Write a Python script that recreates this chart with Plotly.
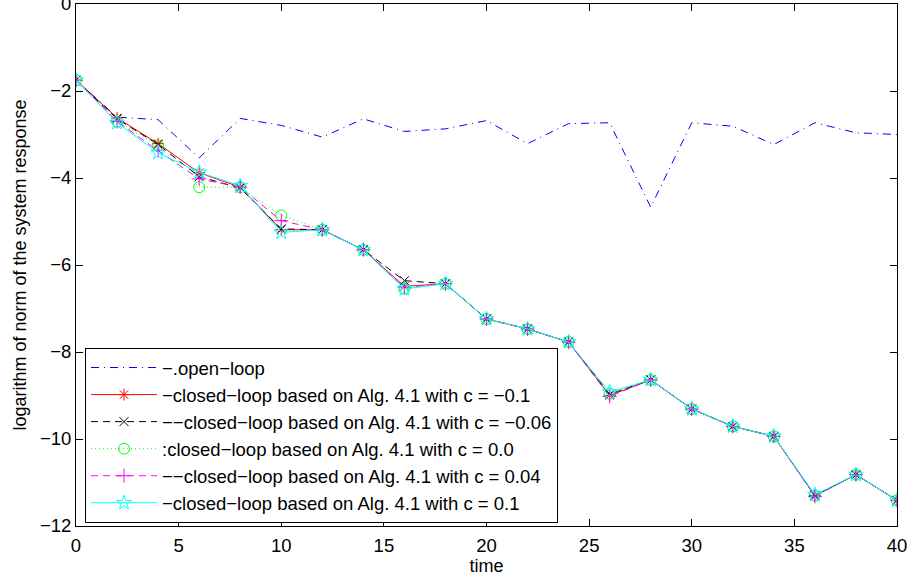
import plotly.graph_objects as go

time = [0, 2, 4, 6, 8, 10, 12, 14, 16, 18, 20, 22, 24, 26, 28, 30, 32, 34, 36, 38, 40]

open_loop = [-1.75, -2.60, -2.66, -3.54, -2.63, -2.79, -3.06, -2.64, -2.93, -2.87, -2.68,
             -3.21, -2.75, -2.73, -4.67, -2.73, -2.81, -3.23, -2.73, -2.96, -3.00]
cl_m010 = [-1.75, -2.62, -3.21, -3.88, -4.21, -5.19, -5.19, -5.65, -6.49, -6.43, -7.24,
           -7.47, -7.77, -9.00, -8.64, -9.31, -9.71, -9.94, -11.30, -10.82, -11.41]
cl_m006 = [-1.75, -2.64, -3.23, -3.97, -4.23, -5.17, -5.19, -5.65, -6.36, -6.43, -7.24,
           -7.47, -7.77, -8.97, -8.64, -9.31, -9.71, -9.94, -11.30, -10.82, -11.41]
cl_000 = [-1.75, -2.70, -3.25, -4.21, -4.21, -4.86, -5.19, -5.65, -6.55, -6.43, -7.24,
          -7.47, -7.77, -8.96, -8.64, -9.31, -9.71, -9.94, -11.30, -10.82, -11.41]
cl_p004 = [-1.75, -2.70, -3.37, -4.02, -4.21, -4.98, -5.19, -5.65, -6.51, -6.43, -7.24,
           -7.47, -7.77, -9.02, -8.64, -9.31, -9.71, -9.94, -11.32, -10.82, -11.41]
cl_p010 = [-1.75, -2.73, -3.42, -3.87, -4.18, -5.25, -5.19, -5.65, -6.55, -6.43, -7.24,
           -7.47, -7.77, -8.92, -8.64, -9.31, -9.71, -9.94, -11.28, -10.82, -11.41]

names = [
    "\u2212.open\u2212loop",
    "\u2212closed\u2212loop based on Alg. 4.1 with c = \u22120.1",
    "\u2212\u2212closed\u2212loop based on Alg. 4.1 with c = \u22120.06",
    ":closed\u2212loop based on Alg. 4.1 with c = 0.0",
    "\u2212\u2212closed\u2212loop based on Alg. 4.1 with c = 0.04",
    "\u2212closed\u2212loop based on Alg. 4.1 with c = 0.1",
]
x_ticks = [0, 5, 10, 15, 20, 25, 30, 35, 40]
y_ticks = [0, -2, -4, -6, -8, -10, -12]

series = [open_loop, cl_m010, cl_m006, cl_000, cl_p004, cl_p010]
colors = ["#0000ff", "#ff0000", "#000000", "#00ff00", "#ff00ff", "#00ffff"]
dashes = ["8px,5px,1px,5px", "solid", "7px,5px", "1px,3px", "7px,5px", "solid"]
symbols = [None, "asterisk-open", "x-thin-open", "circle-open", "cross-thin-open", "star-open"]
msizes = [0, 10, 9, 11, 10, 11]

FONT = "Liberation Sans, Arial, Helvetica, sans-serif"

fig = go.Figure()
for i, (ys, nm, col, ds, sym, ms) in enumerate(zip(series, names, colors, dashes, symbols, msizes)):
    if sym is None:
        fig.add_trace(go.Scatter(x=time, y=ys, name=nm, mode="lines",
                                 line=dict(color=col, width=1, dash=ds),
                                 legendgroup=str(i)))
    else:
        fig.add_trace(go.Scatter(x=time, y=ys, name=nm, mode="lines+markers",
                                 line=dict(color=col, width=1, dash=ds),
                                 marker=dict(symbol=sym, size=ms, color=col,
                                             line=dict(color=col, width=1)),
                                 legendgroup=str(i)))

axis_common = dict(showline=True, linecolor="black", linewidth=1, mirror="ticks",
                   ticks="inside", ticklen=7, tickcolor="black", tickwidth=1,
                   showgrid=False, zeroline=False, automargin=False,
                   ticklabeloverflow="allow",
                   tickfont=dict(family=FONT, size=18.5, color="black"))

fig.update_layout(
    width=912, height=580,
    margin=dict(l=76, r=15, t=4, b=54),
    paper_bgcolor="white", plot_bgcolor="white",
    font=dict(family=FONT, size=18, color="black"),
    xaxis=dict(range=[0, 40], tickvals=x_ticks, ticktext=[str(v) for v in x_ticks],
               ticklabelstandoff=3,
               title=dict(text="time", font=dict(family=FONT, size=18), standoff=2),
               **axis_common),
    yaxis=dict(range=[-12, 0], tickvals=y_ticks,
               ticktext=[("\u2212" + str(-v)) if v < 0 else str(v) for v in y_ticks],
               title=dict(text="logarithm of norm of the system response",
                          font=dict(family=FONT, size=18), standoff=8),
               **axis_common),
    showlegend=True,
    legend=dict(x=0.011, y=0.341, xanchor="left", yanchor="top",
                bgcolor="white", bordercolor="black", borderwidth=1,
                font=dict(family=FONT, size=18.5, color="black"),
                tracegroupgap=0, itemwidth=66, traceorder="grouped"),
)

fig.write_html("out.html", config={"displayModeBar": False},
               post_script="document.body.style.margin='0';")
